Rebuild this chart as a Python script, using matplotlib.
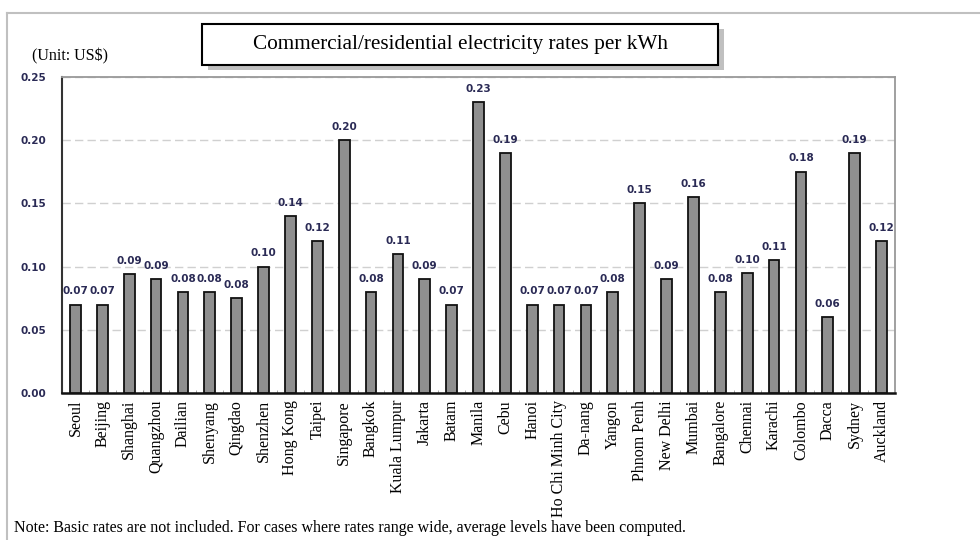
import matplotlib
matplotlib.use("Agg")
import matplotlib.pyplot as plt
from matplotlib.patches import Rectangle
from matplotlib.lines import Line2D

cities = ["Seoul", "Beijing", "Shanghai", "Quangzhou", "Dailian", "Shenyang", "Qingdao",
          "Shenzhen", "Hong Kong", "Taipei", "Singapore", "Bangkok", "Kuala Lumpur",
          "Jakarta", "Batam", "Manila", "Cebu", "Hanoi", "Ho Chi Minh City", "Da-nang",
          "Yangon", "Phnom Penh", "New Delhi", "Mumbai", "Bangalore", "Chennai",
          "Karachi", "Colombo", "Dacca", "Sydney", "Auckland"]
rates = [0.070, 0.070, 0.094, 0.090, 0.080, 0.080, 0.075, 0.100, 0.140, 0.120,
         0.200, 0.080, 0.110, 0.090, 0.070, 0.230, 0.190, 0.070, 0.070, 0.070,
         0.080, 0.150, 0.090, 0.155, 0.080, 0.095, 0.105, 0.175, 0.060, 0.190, 0.120]
rate_labels = ["0.07", "0.07", "0.09", "0.09", "0.08", "0.08", "0.08", "0.10", "0.14", "0.12",
               "0.20", "0.08", "0.11", "0.09", "0.07", "0.23", "0.19", "0.07", "0.07", "0.07",
               "0.08", "0.15", "0.09", "0.16", "0.08", "0.10", "0.11", "0.18", "0.06", "0.19", "0.12"]
yticks = [0.00, 0.05, 0.10, 0.15, 0.20, 0.25]
ytick_labels = ["0.00", "0.05", "0.10", "0.15", "0.20", "0.25"]

W, H = 980, 540
fig = plt.figure(figsize=(W / 100, H / 100), dpi=100)
fig.patch.set_facecolor("white")

def fx(x):
    return x / W

def fy(y):
    return 1 - y / H

# outer frame
fig.add_artist(Line2D([fx(7), fx(7)], [fy(13), fy(545)], color="#c0c0c0", lw=1.5))
fig.add_artist(Line2D([fx(7), fx(985)], [fy(13), fy(13)], color="#c0c0c0", lw=1.5))

ax = fig.add_axes([fx(62), fy(393), (895 - 62) / W, (393 - 77) / H])
n = len(cities)
x = list(range(n))
ax.bar(x, rates, width=0.4, color="#8f8f8f", edgecolor="#111111", linewidth=1.3, zorder=3)
for xi, v, lab in zip(x, rates, rate_labels):
    ax.annotate(lab, (xi, v), xytext=(0, 6), textcoords="offset points",
                ha="center", va="bottom", fontsize=7.5, color="#2a2a55",
                family="DejaVu Sans", fontweight="bold")

ax.set_xlim(-0.5, n - 0.5)
ax.set_ylim(0, 0.25)
ax.set_yticks(yticks)
ax.set_yticklabels(ytick_labels, fontsize=7.5, color="#2a2a55", family="DejaVu Sans",
                   fontweight="bold")
ax.tick_params(axis="y", length=0, pad=11.5)
ax.set_xticks(x)
ax.set_xticklabels(cities, rotation=90, fontsize=11.5, family="Liberation Serif", va="top")
ax.tick_params(axis="x", which="major", length=0, pad=5)
ax.set_xticks([i + 0.5 for i in x[:-1]], minor=True)
ax.tick_params(axis="x", which="minor", length=2, color="#999999", direction="in")
ax.grid(axis="y", color="#d0d0d0", linestyle=(0, (6, 3)), linewidth=1, zorder=0)
ax.set_axisbelow(True)
ax.spines["left"].set_color("#333333")
ax.spines["left"].set_linewidth(1.5)
ax.spines["bottom"].set_color("#111111")
ax.spines["bottom"].set_linewidth(1.8)
ax.spines["top"].set_color("#999999")
ax.spines["top"].set_linewidth(1.3)
ax.spines["right"].set_color("#999999")
ax.spines["right"].set_linewidth(1.3)

# title box with shadow
fig.add_artist(Rectangle((fx(208), fy(70)), fx(718 - 202), (70 - 29) / H,
                         facecolor="#c0c0c0", edgecolor="none"))
fig.add_artist(Rectangle((fx(202), fy(65)), fx(718 - 202), (65 - 24) / H,
                         facecolor="white", edgecolor="black", linewidth=1.5))
fig.text(fx(460), fy(44), "Commercial/residential electricity rates per kWh",
         ha="center", va="center", fontsize=15.3, family="Liberation Serif")
fig.text(fx(32), fy(56), "(Unit: US$)", ha="left", va="center", fontsize=11.5,
         family="Liberation Serif")
fig.text(fx(14), fy(528), "Note: Basic rates are not included. For cases where rates range wide, "
         "average levels have been computed.", ha="left", va="center", fontsize=11.5,
         family="Liberation Serif")

fig.savefig("out.png", dpi=100)
